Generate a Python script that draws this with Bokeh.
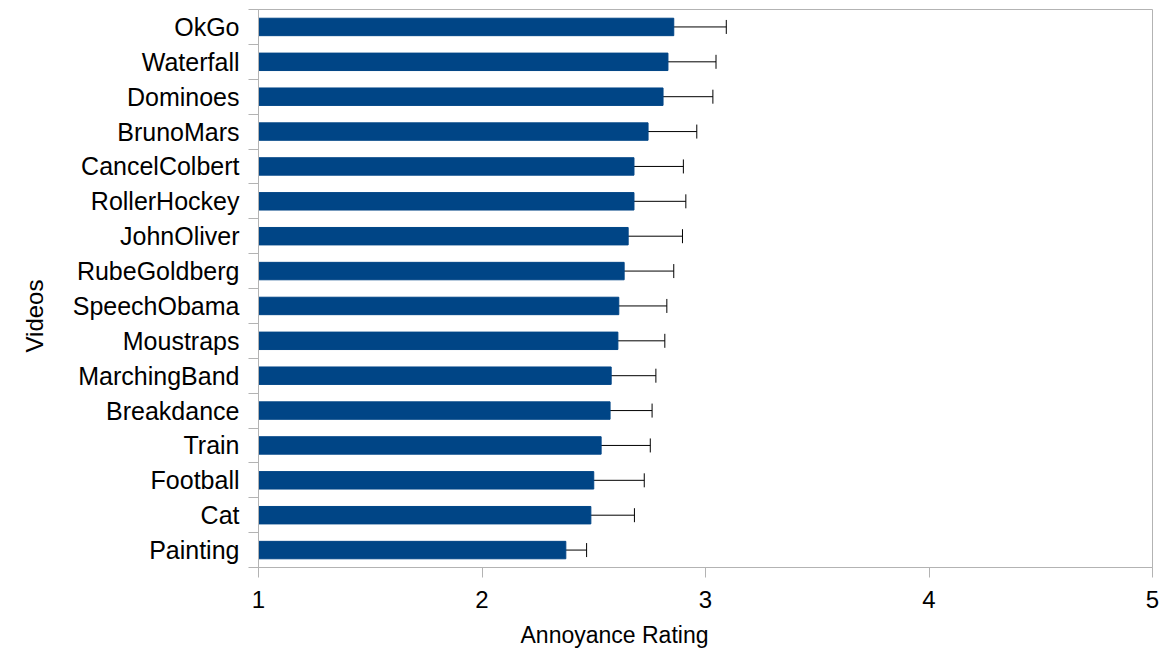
from bokeh.plotting import figure
from bokeh.models import Range1d, FixedTicker, Whisker, ColumnDataSource, Title, TeeHead
from bokeh.embed import file_html
from bokeh.resources import INLINE

videos = ["OkGo", "Waterfall", "Dominoes", "BrunoMars", "CancelColbert", "RollerHockey",
          "JohnOliver", "RubeGoldberg", "SpeechObama", "Moustraps", "MarchingBand",
          "Breakdance", "Train", "Football", "Cat", "Painting"]
ratings = [2.858, 2.832, 2.810, 2.743, 2.680, 2.680, 2.654, 2.636, 2.612, 2.608, 2.578,
           2.573, 2.533, 2.500, 2.487, 2.375]
errors = [0.235, 0.215, 0.223, 0.218, 0.221, 0.232, 0.243, 0.222, 0.215, 0.210, 0.200,
          0.188, 0.220, 0.226, 0.195, 0.093]
x_ticks = [1, 2, 3, 4, 5]

n = len(videos)
ypos = [n - 1 - i for i in range(n)]
src = ColumnDataSource(dict(
    y=ypos, r=ratings,
    lo=[r - e for r, e in zip(ratings, errors)],
    hi=[r + e for r, e in zip(ratings, errors)],
))

FONT = "Liberation Sans"
GRAY = "#b3b3b3"

p = figure(width=1162, height=656, output_backend="svg", toolbar_location=None,
           x_range=Range1d(1, 5), y_range=Range1d(-0.5, n - 0.5),
           min_border_left=257, min_border_right=10, min_border_top=9, min_border_bottom=88)
p.background_fill_color = "white"
p.border_fill_color = "white"
p.outline_line_color = GRAY
p.grid.visible = False

p.hbar(y="y", left=1, right="r", height=0.5, source=src, color="#004586")
p.add_layout(Whisker(source=src, base="y", lower="lo", upper="hi", dimension="width",
                     line_color="black", line_width=1,
                     lower_head=TeeHead(size=14, line_color="black", line_width=1),
                     upper_head=TeeHead(size=14, line_color="black", line_width=1)))

xa = p.xaxis[0]
xa.ticker = FixedTicker(ticks=x_ticks)
xa.axis_line_color = GRAY
xa.major_tick_line_color = GRAY
xa.major_tick_out = 10
xa.major_tick_in = 0
xa.minor_tick_line_color = None
xa.major_label_text_font = FONT
xa.major_label_text_font_size = "24px"
xa.major_label_text_color = "black"
xa.major_label_standoff = 13

ya = p.yaxis[0]
ya.ticker = FixedTicker(ticks=ypos, minor_ticks=[k - 0.5 for k in range(n + 1)])
ya.major_label_overrides = {y: v for y, v in zip(ypos, videos)}
ya.axis_line_color = GRAY
ya.major_tick_line_color = None
ya.major_tick_out = 0
ya.major_tick_in = 0
ya.minor_tick_line_color = GRAY
ya.minor_tick_out = 10
ya.minor_tick_in = 0
ya.major_label_text_font = FONT
ya.major_label_text_font_size = "25px"
ya.major_label_text_color = "black"
ya.major_label_standoff = 9

p.add_layout(Title(text="Annoyance Rating", align="left", offset=262,
                   text_font=FONT, text_font_size="23px", text_font_style="normal",
                   text_color="black", standoff=18, vertical_align="bottom"), "below")
p.add_layout(Title(text="Videos", align="left", offset=215,
                   text_font=FONT, text_font_size="24px", text_font_style="normal",
                   text_color="black", standoff=40, vertical_align="top"), "left")

open("out.html", "w").write(file_html(p, INLINE))
